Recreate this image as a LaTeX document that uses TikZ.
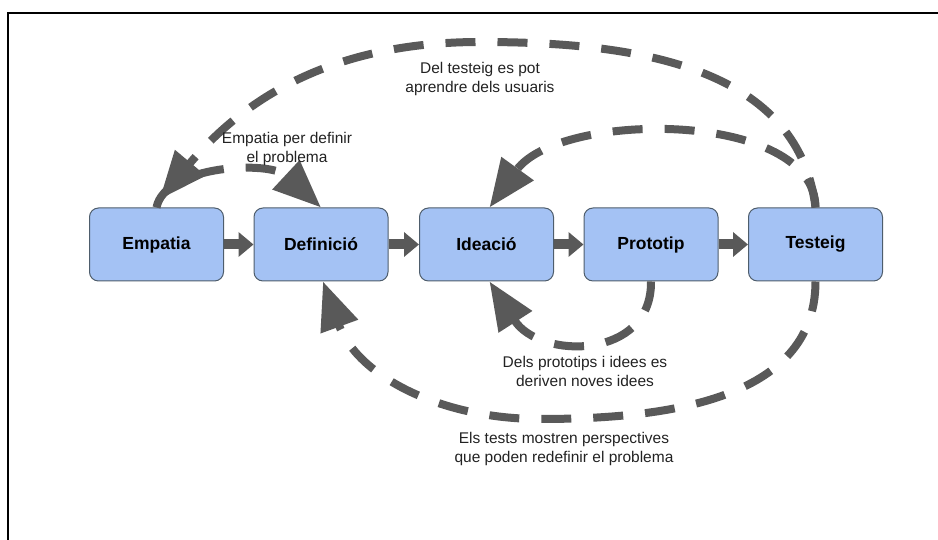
\documentclass[tikz,border=0pt]{standalone}
\usepackage{fontspec}
\setmainfont{Liberation Sans}
\usetikzlibrary{arrows.meta}
\definecolor{boxfill}{HTML}{A4C2F4}
\definecolor{boxline}{HTML}{4E5D6C}
\definecolor{arrowgray}{HTML}{595959}
\definecolor{txt}{HTML}{222222}
\begin{document}
\begin{tikzpicture}[x=1pt,y=1pt,
 stage/.style={draw=boxline, line width=1pt, fill=boxfill, rounded corners=9pt, minimum width=134pt, minimum height=73pt, inner sep=0pt, font=\fontsize{17.5}{20}\selectfont\bfseries, text=black},
 flow/.style={draw=arrowgray, line width=10pt, -{Triangle[length=15pt,width=24pt]}},
 loopline/.style={draw=arrowgray, line width=8pt, dash pattern=on 30pt off 22pt, -{Triangle[length=48pt,width=38pt]}},
 note/.style={align=center, font=\fontsize{15.5}{18.5}\selectfont, text=txt}]
\useasboundingbox (0,0) rectangle (938,540);
\draw[line width=2pt] (8,0) -- (8,526.7) -- (938,526.7);

\node[stage] (em) at (156.5,295.5) {Empatia};
\node[stage] (de) at (321,295.5) {Definició};
\node[stage] (id) at (486.5,295.5) {Ideació};
\node[stage] (pr) at (651,295.5) {Prototip};
\node[stage] (te) at (815.5,295.5) {Testeig};

\draw[flow] (em.east) -- (de.west);
\draw[flow] (de.east) -- (id.west);
\draw[flow] (id.east) -- (pr.west);
\draw[flow] (pr.east) -- (te.west);

\coordinate (topapex) at (480,498);
\coordinate (botapex) at (540,121);

\draw[loopline] (te.north) to[out=97,in=0] (topapex) to[out=180,in=50] ([xshift=3pt,yshift=8pt]em.north);
\draw[loopline] (em.north) .. controls (165,375) and (270,380) .. (de.north);
\draw[loopline] (te.north) .. controls (815,430) and (560,430) .. ([xshift=3pt]id.north);
\draw[loopline] (pr.south) .. controls (652,180) and (540,180) .. ([xshift=3pt]id.south);
\draw[loopline] (te.south) to[out=-90,in=0] (botapex) to[out=180,in=-70] ([xshift=2pt]de.south);

\node[note] (n1) at (480,461) {Del testeig es pot\\aprendre dels usuaris};
\node[note] (n2) at (287,391) {Empatia per definir\\el problema};
\node[note] (n3) at (585,168.5) {Dels prototips i idees es\\deriven noves idees};
\node[note] (n4) at (564,91) {Els tests mostren perspectives\\que poden redefinir el problema};
\end{tikzpicture}
\end{document}
